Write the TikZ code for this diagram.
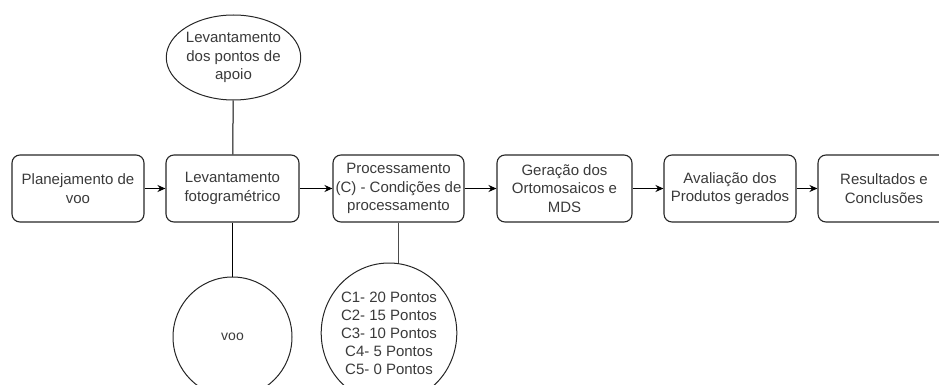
\documentclass[tikz,border=0pt]{standalone}
\usepackage{fontspec}
\setmainfont{Liberation Sans}
\usetikzlibrary{arrows.meta,shapes.geometric}
\definecolor{txt}{HTML}{3A3A3A}
\tikzset{
  box/.style={draw=black!85, line width=1.1pt, rounded corners=8pt, minimum width=132pt, minimum height=67pt, align=center, text=txt, font=\fontsize{15}{18.5}\selectfont, inner sep=1pt},
  oval/.style={draw=black!85, line width=1pt, ellipse, inner sep=0pt, align=center, text=txt, font=\fontsize{15}{18.5}\selectfont},
  flow/.style={line width=1.1pt, -{Stealth[length=8pt,width=7pt]}},
  link/.style={line width=1pt}
}
\begin{document}
\begin{tikzpicture}[x=1pt,y=-1pt]
\useasboundingbox (0,0) rectangle (939,385);
\clip (0,0) rectangle (939,385);
\node[box] (b1) at (78,188.5) {Planejamento de\\voo};
\node[box, minimum width=133pt] (b2) at (232.5,188.5) {Levantamento\\fotogramétrico};
\node[box, minimum width=131pt] (b3) at (398.5,188.5) {Processamento\\(C) - Condições de\\processamento};
\node[box, minimum width=135pt] (b4) at (564.5,188.5) {Geração dos\\Ortomosaicos e\\MDS};
\node[box] (b5) at (730,188.5) {Avaliação dos\\Produtos gerados};
\node[box] (b6) at (884,188.5) {Resultados e\\Conclusões};
\node[oval, minimum width=117pt, minimum height=85pt] (top) at (233.5,57.5) {Levantamento\\dos pontos de\\apoio};
\node[oval, minimum width=119pt, minimum height=120pt, font=\fontsize{14}{16}\selectfont] (voo) at (232.5,337) {voo};
\node[oval, minimum width=132pt, minimum height=140pt, font=\fontsize{15}{18}\selectfont] (cond) at (389,333) {C1- 20 Pontos\\C2- 15 Pontos\\C3- 10 Pontos\\C4- 5 Pontos\\C5- 0 Pontos};
\draw[flow] (b1) -- (b2);
\draw[flow] (b2) -- (b3);
\draw[flow] (b3) -- (b4);
\draw[flow] (b4) -- (b5);
\draw[flow] (b5) -- (b6);
\draw[link] (top) -- (b2);
\draw[link] (b2) -- (voo);
\draw[link, line width=0.8pt, black!70] (b3.south) -- (b3.south |- cond.north);
\end{tikzpicture}
\end{document}
